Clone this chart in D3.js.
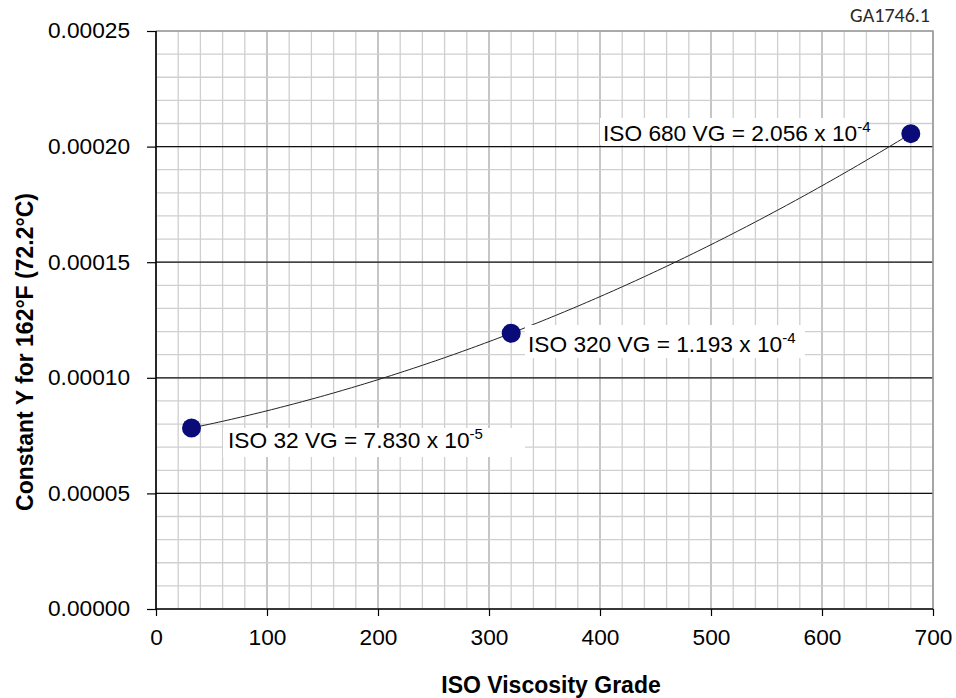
<!DOCTYPE html>
<html>
<head>
<meta charset="utf-8">
<script src="https://cdn.jsdelivr.net/npm/d3@7"></script>
<style>
  body { margin: 0; background: #fff; }
  text { font-family: "Liberation Sans", Arial, sans-serif; }
</style>
</head>
<body>
<svg id="chart"></svg>
<script>
// data
const grades = [32, 320, 680];
const constY = [7.830e-5, 1.193e-4, 2.056e-4];
const labelMain = ["ISO 32 VG = 7.830 x 10", "ISO 320 VG = 1.193 x 10", "ISO 680 VG = 2.056 x 10"];
const labelExp = ["-5", "-4", "-4"];
const xTicks = [0, 100, 200, 300, 400, 500, 600, 700];
const yTicks = [0, 0.00005, 0.0001, 0.00015, 0.0002, 0.00025];

const W = 956, H = 698;
const margin = { top: 31, right: 23, bottom: 89, left: 156 };
const w = W - margin.left - margin.right;
const h = H - margin.top - margin.bottom;

const svg = d3.select("#chart").attr("width", W).attr("height", H);
const g = svg.append("g").attr("transform", `translate(${margin.left},${margin.top})`);

const x = d3.scaleLinear().domain([0, 700]).range([0, w]);
const y = d3.scaleLinear().domain([0, 0.00025]).range([h, 0]);

// minor grid
g.selectAll(".vminor").data(d3.range(0, 701, 20)).enter().append("line")
  .attr("x1", d => x(d)).attr("x2", d => x(d)).attr("y1", 0).attr("y2", h)
  .attr("stroke", d => d % 100 === 0 ? "#a8a8a8" : "#cfcfcf").attr("stroke-width", 1.3);
g.selectAll(".hminor").data(d3.range(0, 26).map(i => i * 0.00001)).enter().append("line")
  .attr("x1", 0).attr("x2", w).attr("y1", d => y(d)).attr("y2", d => y(d))
  .attr("stroke", "#cfcfcf").attr("stroke-width", 1.3);
// major horizontal lines
g.selectAll(".hmajor").data(yTicks.slice(1, -1)).enter().append("line")
  .attr("x1", 0).attr("x2", w).attr("y1", d => y(d)).attr("y2", d => y(d))
  .attr("stroke", "#111").attr("stroke-width", 1.2);
// frame top/right
g.append("path").attr("d", `M0,0H${w}V${h}`).attr("fill", "none").attr("stroke", "#9a9a9a").attr("stroke-width", 1.5);

// axes
const xAxis = g.append("g").attr("transform", `translate(0,${h})`)
  .call(d3.axisBottom(x).tickValues(xTicks).tickSize(7).tickPadding(13));
const yAxis = g.append("g")
  .call(d3.axisLeft(y).tickValues(yTicks).tickSize(9).tickPadding(17).tickFormat(d3.format(".5f")));
[xAxis, yAxis].forEach(a => {
  a.select(".domain").attr("stroke", "#000").attr("stroke-width", 1.6);
  a.selectAll(".tick line").attr("stroke", "#000").attr("stroke-width", 1.2);
  a.selectAll(".tick text").attr("font-size", 22.7).attr("fill", "#000")
    .attr("font-family", "'Liberation Sans', Arial, sans-serif");
});
xAxis.select(".domain").attr("d", `M0,0H${w}`);
yAxis.select(".domain").attr("d", `M0,0V${h}`);
yAxis.selectAll(".tick text").attr("dy", "0.3em");

// 2nd order polynomial trendline through the three points (Lagrange form)
const quad = v => grades.reduce((s, xi, i) => {
  let t = constY[i];
  grades.forEach((xj, j) => { if (j !== i) t *= (v - xj) / (xi - xj); });
  return s + t;
}, 0);
const trend = d3.range(grades[0], grades[2] + 0.1, 4).map(v => [v, quad(v)]);
const line = d3.line().x(d => x(d[0])).y(d => y(d[1]));
g.append("path").datum(trend).attr("d", line).attr("fill", "none").attr("stroke", "#222").attr("stroke-width", 1);

// labels with white boxes
const labelPos = [[72, 417], [372, 321], [447, 110]];
const boxes = [[-5, -20, 302, 29], [-3, -27, 280, 33], [-3, -23, 265, 27]];
labelPos.forEach((p, i) => {
  const b = boxes[i];
  g.append("rect").attr("x", p[0] + b[0]).attr("y", p[1] + b[1]).attr("width", b[2]).attr("height", b[3]).attr("fill", "#fff");
  const t = g.append("text").attr("x", p[0]).attr("y", p[1]).attr("font-size", 22.7).attr("fill", "#000");
  t.append("tspan").text(labelMain[i]);
  t.append("tspan").attr("dy", -9).attr("font-size", 15).text(labelExp[i]);
});

// markers
const pts = grades.map((v, i) => [v, constY[i]]);
g.selectAll(".pt").data(pts).enter().append("circle")
  .attr("cx", d => x(d[0])).attr("cy", d => y(d[1])).attr("r", 9.5)
  .attr("fill", "#0a0a78");

// titles
svg.append("text").attr("x", 551).attr("y", 693).attr("text-anchor", "middle")
  .attr("font-size", 23).attr("font-weight", "bold").text("ISO Viscosity Grade");
svg.append("text").attr("transform", "translate(33,352) rotate(-90)")
  .attr("text-anchor", "middle").attr("font-size", 23).attr("font-weight", "bold")
  .text("Constant Y for 162°F (72.2°C)");
svg.append("text").attr("x", 930).attr("y", 22).attr("text-anchor", "end")
  .attr("font-size", 20).attr("fill", "#2a2a2a").style("font-family", "Carlito, Lato, sans-serif")
  .text("GA1746.1");
</script>
</body>
</html>
